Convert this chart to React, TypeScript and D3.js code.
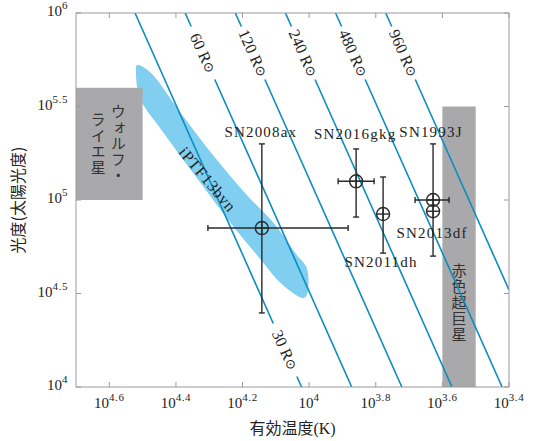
import React from "react";
import * as d3 from "d3";

// ---- data ----
const xTickExps = [4.6, 4.4, 4.2, 4.0, 3.8, 3.6, 3.4];
const xTickLabels = ["4.6", "4.4", "4.2", "4", "3.8", "3.6", "3.4"];
const yTickExps = [4, 4.5, 5, 5.5, 6];
const yTickLabels = ["4", "4.5", "5", "5.5", "6"];

const radii = [30, 60, 120, 240, 480, 960];
const radiusLabelLogL = [4.198, 5.786, 5.786, 5.786, 5.786, 5.786];
const logTsun = Math.log10(5772);

const snNames = ["SN2008ax", "SN2016gkg", "SN2011dh", "SN1993J", "SN2013df"];
const snLogT = [4.142, 3.859, 3.778, 3.628, 3.628];
const snLogL = [4.85, 5.1, 4.925, 5.0, 4.94];
const snTmin = [3.883, 3.805, 3.778, 3.58, 3.628];
const snTmax = [4.304, 3.913, 3.778, 3.682, 3.628];
const snLmin = [4.396, 4.909, 4.716, 4.7, 4.9];
const snLmax = [5.3, 5.273, 5.123, 5.3, 4.98];
const snLabelT = [4.145, 3.862, 3.784, 3.634, 3.631];
const snLabelL = [5.337, 5.326, 4.642, 5.337, 4.797];
const snHasHBar = [true, true, false, true, false];
const snHasVBar = [true, true, true, true, false];

const bandLogT = [4.517, 4.478, 4.388, 4.289, 4.187, 4.109, 4.037, 4.007, 4.007, 4.019, 4.079, 4.157, 4.238, 4.337, 4.439, 4.508, 4.52];
const bandLogL = [5.722, 5.684, 5.471, 5.241, 5.027, 4.882, 4.706, 4.636, 4.492, 4.476, 4.545, 4.706, 4.882, 5.118, 5.364, 5.545, 5.695];
const bandLabel = "iPTF13bvn";
const bandLabelT = 4.305;
const bandLabelL = 5.11;

const wrLogT = [4.5, 4.7];
const wrLogL = [5.0, 5.6];
const wrColumns = ["ウォルフ・", "ライエ星"];
const rsgLogT = [3.5, 3.6];
const rsgLogL = [4.0, 5.5];
const rsgText = "赤色超巨星";
const rsgTextL = 4.449;

const xTitle = "有効温度";
const yTitle = "光度(太陽光度)";

// ---- styles ----
const W = 537, H = 441;
const L = 76, R = 509, T = 13, B = 387;
const serif = "'Liberation Serif', 'Times New Roman', 'DejaVu Serif', serif";
const cjk = "'Noto Sans CJK JP', sans-serif";
const lineBlue = "#0b8dc0";
const bandBlue = "#80cff1";
const boxGray = "#a9a9ab";
const frameGray = "#9a9a9a";
const ink = "#2a2a2a";

function VerticalText({ text, x, cy }: { text: string; x: number; cy: number }) {
  return (
    <text
      x={x}
      y={cy}
      textAnchor="middle"
      fill="#333"
      style={{ fontFamily: cjk, fontSize: 15, writingMode: "vertical-rl" as any, letterSpacing: 1 }}
    >
      {text}
    </text>
  );
}

export default function App() {
  const x = d3.scaleLinear().domain([4.7, 3.4]).range([L, R]);
  const y = d3.scaleLinear().domain([4, 6]).range([B, T]);

  const bandPath = d3
    .line<number>()
    .x((i) => x(bandLogT[i]))
    .y((i) => y(bandLogL[i]))
    .curve(d3.curveCatmullRomClosed.alpha(0.5))(bandLogT.map((_, i) => i)) || "";

  const radiusLines = radii.map((r, i) => {
    const lr = 2 * Math.log10(r);
    const tAt = (ll: number) => (ll - lr) / 4 + logTsun;
    const lAt = (lt: number) => lr + 4 * (lt - logTsun);
    let t0 = tAt(6), l0 = 6;
    if (t0 > 4.7) { t0 = 4.7; l0 = lAt(4.7); }
    let t1 = tAt(4), l1 = 4;
    if (t1 < 3.4) { t1 = 3.4; l1 = lAt(3.4); }
    const p0 = [x(t0), y(l0)];
    const p1 = [x(t1), y(l1)];
    const dx = p1[0] - p0[0], dy = p1[1] - p0[1];
    const len = Math.hypot(dx, dy);
    const ux = dx / len, uy = dy / len;
    const cl = radiusLabelLogL[i];
    const c = [x(tAt(cl)), y(cl)];
    const gap = 29;
    const angle = (Math.atan2(dy, dx) * 180) / Math.PI;
    return { r, p0, p1, c, ux, uy, gap, angle };
  });

  const wrCx = x((wrLogT[0] + wrLogT[1]) / 2);
  const wrCy = y((wrLogL[0] + wrLogL[1]) / 2);

  return (
    <svg
      width={W}
      height={H}
      viewBox={`0 0 ${W} ${H}`}
      style={{ position: "absolute", left: 0, top: 0, background: "#fff" }}
    >
      <defs>
        <clipPath id="plot">
          <rect x={L} y={T} width={R - L} height={B - T} />
        </clipPath>
      </defs>
      <rect x={0} y={0} width={W} height={H} fill="#fff" />
      <g clipPath="url(#plot)">
        <path d={bandPath} fill={bandBlue} />
        <rect
          x={x(wrLogT[1])}
          y={y(wrLogL[1])}
          width={x(wrLogT[0]) - x(wrLogT[1])}
          height={y(wrLogL[0]) - y(wrLogL[1])}
          fill={boxGray}
        />
        <rect
          x={x(rsgLogT[1])}
          y={y(rsgLogL[1])}
          width={x(rsgLogT[0]) - x(rsgLogT[1])}
          height={y(rsgLogL[0]) - y(rsgLogL[1])}
          fill={boxGray}
        />
      </g>
      <VerticalText text={wrColumns[0]} x={wrCx + 9} cy={wrCy} />
      <VerticalText text={wrColumns[1]} x={wrCx - 11} cy={wrCy} />
      <VerticalText text={rsgText} x={x((rsgLogT[0] + rsgLogT[1]) / 2)} cy={y(rsgTextL)} />
      <g clipPath="url(#plot)">
        {radiusLines.map((d) => (
          <g key={d.r}>
            <line
              x1={d.p0[0]}
              y1={d.p0[1]}
              x2={d.c[0] - d.ux * d.gap}
              y2={d.c[1] - d.uy * d.gap}
              stroke={lineBlue}
              strokeWidth={1.6}
            />
            <line
              x1={d.c[0] + d.ux * d.gap}
              y1={d.c[1] + d.uy * d.gap}
              x2={d.p1[0]}
              y2={d.p1[1]}
              stroke={lineBlue}
              strokeWidth={1.6}
            />
          </g>
        ))}
        {snNames.map((n, i) => {
          const cx = x(snLogT[i]);
          const cy = y(snLogL[i]);
          const cap = 3;
          const rr = 6.5;
          return (
            <g key={n} stroke={ink} strokeWidth={1.4} fill="none">
              {snHasHBar[i] && (
                <>
                  <line x1={x(snTmax[i])} y1={cy} x2={x(snTmin[i])} y2={cy} />
                  <line x1={x(snTmax[i])} y1={cy - cap} x2={x(snTmax[i])} y2={cy + cap} />
                  <line x1={x(snTmin[i])} y1={cy - cap} x2={x(snTmin[i])} y2={cy + cap} />
                </>
              )}
              {snHasVBar[i] && (
                <>
                  <line x1={cx} y1={y(snLmax[i])} x2={cx} y2={y(snLmin[i])} />
                  <line x1={cx - cap} y1={y(snLmax[i])} x2={cx + cap} y2={y(snLmax[i])} />
                  <line x1={cx - cap} y1={y(snLmin[i])} x2={cx + cap} y2={y(snLmin[i])} />
                </>
              )}
              <line x1={cx - rr} y1={cy} x2={cx + rr} y2={cy} />
              <line x1={cx} y1={cy - rr} x2={cx} y2={cy + rr} />
              <circle cx={cx} cy={cy} r={rr} />
            </g>
          );
        })}
      </g>
      {radiusLines.map((d) => (
        <text
          key={"rl" + d.r}
          transform={`translate(${d.c[0]},${d.c[1]}) rotate(${d.angle})`}
          textAnchor="middle"
          dominantBaseline="central"
          style={{ fontFamily: serif }}
          fontSize={16}
          fill="#222"
        >
          {`${d.r} R`}
          <tspan style={{ fontFamily: "'DejaVu Sans', sans-serif" }} fontSize={13}>⊙</tspan>
        </text>
      ))}
      <text
        transform={`translate(${x(bandLabelT)},${y(bandLabelL)}) rotate(50)`}
        textAnchor="middle"
        dominantBaseline="central"
        style={{ fontFamily: serif }}
        fontSize={16}
        letterSpacing={0.8}
        fill="#222"
      >
        {bandLabel}
      </text>
      {snNames.map((n, i) => (
        <text
          key={n}
          x={x(snLabelT[i])}
          y={y(snLabelL[i])}
          textAnchor="middle"
          style={{ fontFamily: serif }}
          fontSize={15}
          letterSpacing={1.2}
          fill="#222"
        >
          {n}
        </text>
      ))}
      {/* frame */}
      <rect x={L} y={T} width={R - L} height={B - T} fill="none" stroke={frameGray} strokeWidth={1} />
      {xTickExps.map((t) => (
        <g key={"xt" + t} stroke={frameGray} strokeWidth={1}>
          <line x1={x(t)} x2={x(t)} y1={B} y2={B - 5} />
          <line x1={x(t)} x2={x(t)} y1={T} y2={T + 5} />
        </g>
      ))}
      {yTickExps.map((t) => (
        <g key={"yt" + t} stroke={frameGray} strokeWidth={1}>
          <line x1={L} x2={L + 5} y1={y(t)} y2={y(t)} />
          <line x1={R} x2={R - 5} y1={y(t)} y2={y(t)} />
        </g>
      ))}
      {xTickExps.map((t, i) => (
        <text
          key={"xl" + t}
          x={x(t)}
          y={B + 21}
          textAnchor="middle"
          style={{ fontFamily: serif }}
          fontSize={15}
          fill="#222"
        >
          10
          <tspan dy={-7} fontSize={11} letterSpacing={0.6}>{xTickLabels[i]}</tspan>
        </text>
      ))}
      {yTickExps.map((t, i) => (
        <text
          key={"yl" + t}
          x={L - 8}
          y={y(t) + 3}
          textAnchor="end"
          style={{ fontFamily: serif }}
          fontSize={15}
          fill="#222"
        >
          10
          <tspan dy={-7} fontSize={11} letterSpacing={0.6}>{yTickLabels[i]}</tspan>
        </text>
      ))}
      <text
        x={(L + R) / 2}
        y={434}
        textAnchor="middle"
        style={{ fontFamily: cjk }}
        fontSize={16}
        fill="#222"
      >
        {xTitle}
        <tspan style={{ fontFamily: serif }}>(K)</tspan>
      </text>
      <text
        transform={`translate(24,${(T + B) / 2}) rotate(-90)`}
        textAnchor="middle"
        style={{ fontFamily: cjk }}
        fontSize={16}
        fill="#222"
      >
        {yTitle}
      </text>
    </svg>
  );
}
